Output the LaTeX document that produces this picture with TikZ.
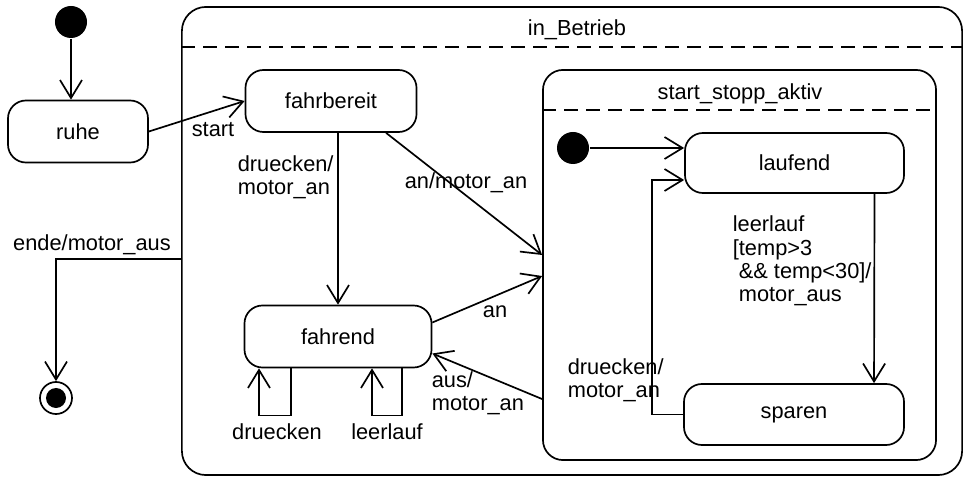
\documentclass[tikz,border=0pt]{standalone}
\usepackage{fontspec}
\setmainfont{Liberation Sans}
\usetikzlibrary{arrows.meta}

\begin{document}
\begin{tikzpicture}[x=0.025cm, y=-0.025cm, line width=1.2pt,
		font=\fontsize{15.5}{16.5}\selectfont,
		zustand/.style={draw, rounded corners=0.45cm, minimum width=#1, minimum height=1.55cm},
		oberzustand/.style={draw, rounded corners=0.6cm},
		startpunkt/.style={circle, fill, inner sep=0pt, minimum size=0.8cm},
		endpunkt/.style={circle, draw, inner sep=0pt, minimum size=0.8cm},
		trennlinie/.style={dash pattern=on 0.35cm off 0.2cm},
		pfeil/.style={-{Straight Barb[length=0.45cm,width=0.55cm]}},
		text2/.style={align=left, inner sep=0pt, anchor=west}]
		\useasboundingbox (0,0) rectangle (964,477);
		% Oberzustaende
		\node[oberzustand, minimum width=19.5cm, minimum height=11.7cm] (betrieb) at (572,241) {};
		\node[oberzustand, rounded corners=0.5cm, minimum width=9.825cm, minimum height=9.75cm] (aktiv) at (739.5,265) {};
		\foreach \b in {betrieb, aktiv}
			\draw[trennlinie] ([yshift=-1.025cm]\b.north west) -- ([yshift=-1.025cm]\b.north east);
		\node (tbetrieb) at (577,30) {in\_Betrieb};
		\node (taktiv) at (740,94) {start\_stopp\_aktiv};
		% Zustaende
		\node[startpunkt] (init) at (71,22) {};
		\node[zustand=3.5cm] (ruhe) at (78,131.5) {ruhe};
		\node[zustand=4.275cm] (fahrbereit) at (331,101) {fahrbereit};
		\node[zustand=4.675cm] (fahrend) at (338,336.5) {fahrend};
		\node[startpunkt] (init2) at (573,148) {};
		\node[zustand=5.475cm, minimum height=1.5cm] (laufend) at (794.5,163) {laufend};
		\node[zustand=5.5cm, minimum height=1.525cm] (sparen) at (794,414.5) {sparen};
		\node[endpunkt] (final) at (56,398) {};
		\fill (final.center) circle (0.25cm);
		% Transitionen
		\draw[pfeil] (init) -- (init |- ruhe.north);
		\draw[pfeil] (ruhe.east) -- (fahrbereit.west);
		\draw[pfeil] (fahrend.north |- fahrbereit.south) -- (fahrend.north);
		\draw[pfeil] ([xshift=1.375cm]fahrbereit.south) -- ([yshift=0.25cm]aktiv.west);
		\draw[pfeil] ([yshift=0.35cm]fahrend.east) -- ([yshift=-0.275cm]aktiv.west);
		\draw[pfeil] ([yshift=-3.35cm]aktiv.west) -- ([yshift=-0.425cm]fahrend.east);
		\draw[pfeil] ([xshift=-1.175cm]fahrend.south) -- ++(0,47) -| ([xshift=-1.975cm]fahrend.south);
		\draw[pfeil] ([xshift=1.6cm]fahrend.south) -- ++(0,47) -| ([xshift=0.85cm]fahrend.south);
		\draw[pfeil] (init2) -- (init2 -| laufend.west);
		\draw[pfeil] ([xshift=2cm]laufend.south) -- ([xshift=2cm]sparen.north);
		\draw[pfeil] (sparen.west) -- ++(-31,0) |- ([yshift=-0.425cm]laufend.west);
		\draw[pfeil] ([yshift=-0.45cm]betrieb.west) -| (final);
		% Beschriftungen
		\node (lstart) at (213,130) {start};
		\node[text2] (ldrueck) at (237,177) {druecken/\\motor\_an};
		\node (lanmotor) at (466,183) {an/motor\_an};
		\node (lan) at (495,312) {an};
		\node[text2] (laus) at (431,393) {aus/\\motor\_an};
		\node (lloop1) at (277,432) {druecken};
		\node (lloop2) at (387,432) {leerlauf};
		\node[text2] (ldrueck2) at (567,380) {druecken/\\motor\_an};
		\node[text2] (lleer) at (732,261) {leerlauf\\{}[temp>3\\\hspace*{0.15cm}\&\& temp<30]/\\\hspace*{0.15cm}motor\_aus};
		\node (lende) at (92,245) {ende/motor\_aus};
	\end{tikzpicture}
\end{document}
